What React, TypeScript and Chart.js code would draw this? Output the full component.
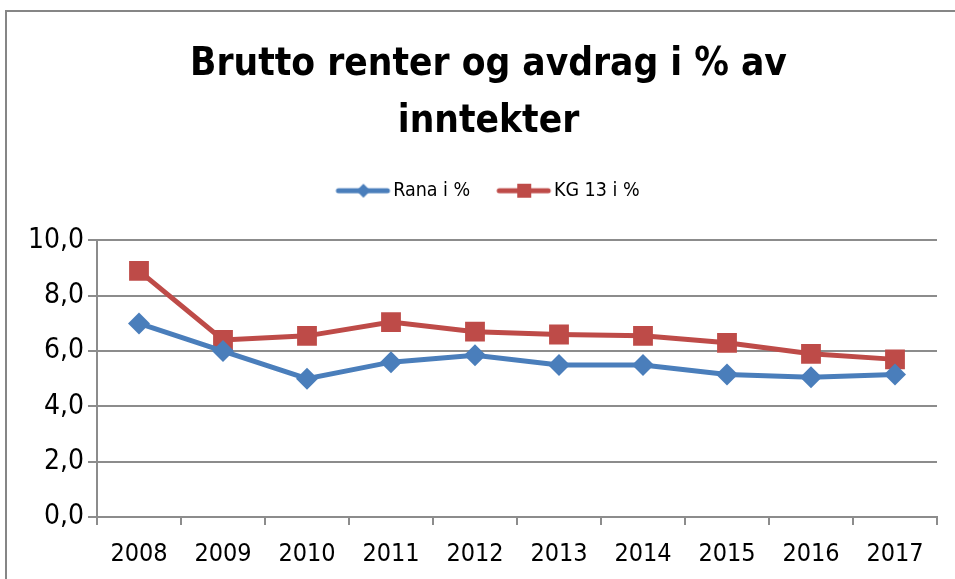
import React, { useEffect, useRef } from "react";
import { Chart, registerables } from "chart.js";
Chart.register(...registerables);

const years = ["2008", "2009", "2010", "2011", "2012", "2013", "2014", "2015", "2016", "2017"];
const ranaValues = [7.0, 6.0, 5.0, 5.6, 5.85, 5.5, 5.5, 5.15, 5.05, 5.15];
const kgValues = [8.9, 6.4, 6.55, 7.05, 6.7, 6.6, 6.55, 6.3, 5.9, 5.7];
const seriesNames = ["Rana i %", "KG 13 i %"];
const titleLines = ["Brutto renter og avdrag i % av", "inntekter"];
const yMin = 0;
const yMax = 10;
const yStep = 2;

const BLUE = "#4A7EBB";
const RED = "#BE4B48";
const GRID = "#8C8C8C";
const FONT = "'Liberation Sans Narrow', 'DejaVu Sans Condensed', 'Liberation Sans', sans-serif";

function legendIcon(color: string, kind: "diamond" | "square"): HTMLCanvasElement {
  const c = document.createElement("canvas");
  c.width = 102;
  c.height = 20;
  const ctx = c.getContext("2d")!;
  ctx.strokeStyle = color;
  ctx.lineWidth = 5;
  ctx.lineCap = "round";
  ctx.beginPath();
  ctx.moveTo(29, 10);
  ctx.lineTo(78, 10);
  ctx.stroke();
  ctx.fillStyle = color;
  ctx.beginPath();
  const cx = 54;
  if (kind === "diamond") {
    ctx.moveTo(cx, 3);
    ctx.lineTo(cx + 7, 10);
    ctx.lineTo(cx, 17);
    ctx.lineTo(cx - 7, 10);
  } else {
    ctx.rect(cx - 7, 3, 14, 14);
  }
  ctx.closePath();
  ctx.fill();
  return c;
}

export default function App() {
  const ref = useRef<HTMLCanvasElement>(null);
  useEffect(() => {
    document.body.style.margin = "0";
    const icons = [legendIcon(BLUE, "diamond"), legendIcon(RED, "square")];
    const chart = new Chart(ref.current!, {
      type: "line",
      data: {
        labels: years,
        datasets: [
          {
            label: seriesNames[0],
            data: ranaValues,
            xAxisID: "x",
            yAxisID: "y",
            borderColor: BLUE,
            backgroundColor: BLUE,
            borderWidth: 5,
            pointStyle: "rectRot",
            pointRadius: 11,
            pointHoverRadius: 11,
            pointBorderWidth: 0,
            tension: 0,
          },
          {
            label: seriesNames[1],
            data: kgValues,
            xAxisID: "x",
            yAxisID: "y",
            borderColor: RED,
            backgroundColor: RED,
            borderWidth: 5,
            pointStyle: "rect",
            pointRadius: 14,
            pointHoverRadius: 14,
            pointBorderWidth: 0,
            tension: 0,
          },
        ],
      },
      options: {
        responsive: false,
        animation: false,
        layout: { padding: { top: 14, left: 22, right: 0, bottom: 0 } },
        plugins: {
          title: {
            display: true,
            text: titleLines,
            color: "#000",
            font: { family: FONT, size: 38.5, weight: "bold", lineHeight: 1.48 },
            padding: { top: 23, bottom: 2 },
          },
          legend: {
            display: true,
            position: "top",
            labels: {
              color: "#000",
              font: { family: FONT, size: 19.5 },
              usePointStyle: true,
              pointStyleWidth: 46,
              boxHeight: 20,
              padding: 28,
              generateLabels: (ch: any) => {
                const base = Chart.defaults.plugins.legend.labels.generateLabels(ch);
                return base.map((l: any, i: number) => ({ ...l, pointStyle: icons[i] }));
              },
            },
          },
          tooltip: { enabled: false },
        },
        scales: {
          x: {
            offset: true,
            afterFit: (s: any) => {
              s.height = 62;
            },
            grid: {
              offset: true,
              drawOnChartArea: false,
              drawTicks: true,
              tickLength: 8,
              color: GRID,
              lineWidth: 2,
            },
            border: { display: true, color: GRID, width: 2 },
            ticks: { color: "#000", font: { family: FONT, size: 25 }, padding: 14, maxRotation: 0 },
          },
          y: {
            min: yMin,
            max: yMax,
            afterFit: (s: any) => {
              s.width = 75;
            },
            grid: { color: GRID, lineWidth: 2, drawTicks: true, tickLength: 9 },
            border: { display: true, color: GRID, width: 2 },
            ticks: {
              stepSize: yStep,
              color: "#000",
              font: { family: FONT, size: 28 },
              padding: 4,
              callback: (v: any) => Number(v).toFixed(1).replace(".", ","),
            },
          },
          spacer: {
            type: "category",
            position: "top",
            labels: [""],
            afterFit: (s: any) => {
              s.height = 30;
            },
            grid: { display: false },
            border: { display: false },
            ticks: { display: false },
          },
          spacerR: {
            type: "category",
            position: "right",
            labels: [""],
            afterFit: (s: any) => {
              s.width = 18;
            },
            grid: { display: false },
            border: { display: false },
            ticks: { display: false },
          },
        },
      },
    });
    return () => chart.destroy();
  }, []);
  return (
    <div style={{ position: "relative", width: 955, height: 579, overflow: "hidden", background: "#fff" }}>
      <div
        style={{
          position: "absolute",
          left: 5,
          top: 10,
          width: 1000,
          height: 700,
          border: "2px solid #868686",
        }}
      />
      <canvas ref={ref} width={955} height={579} style={{ position: "absolute", left: 0, top: 0 }} />
    </div>
  );
}
